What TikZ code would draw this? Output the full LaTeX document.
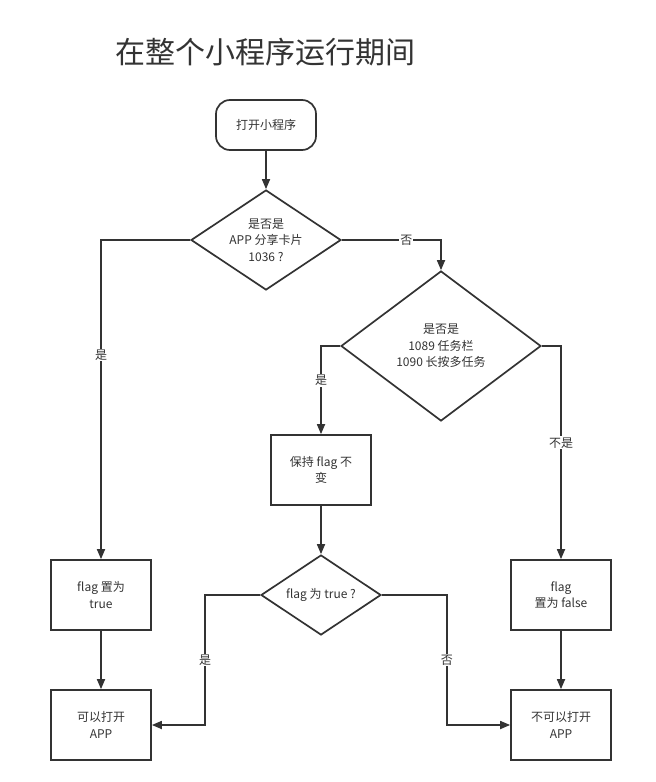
\documentclass[tikz,border=0pt]{standalone}
\usepackage{fontspec}
\setmainfont{Noto Sans CJK SC}
\usetikzlibrary{shapes.geometric,arrows.meta}
\definecolor{ink}{HTML}{333333}
\tikzset{
  every node/.style={text=ink, font=\fontsize{12}{16.5}\selectfont, align=center},
  box/.style={draw=ink, line width=1.7pt, minimum width=100pt, minimum height=70pt, inner sep=0pt},
  startbox/.style={draw=ink, line width=1.7pt, minimum width=100pt, minimum height=50pt, rounded corners=14pt, inner sep=0pt},
  dec/.style={draw=ink, line width=1.7pt, diamond, inner sep=0pt, aspect=1.5},
  conn/.style={draw=ink, line width=1.7pt, -{Triangle[length=10pt,width=8pt]}},
  lab/.style={fill=white, inner sep=1pt},
}
\begin{document}
\begin{tikzpicture}[x=1pt,y=-1pt]
\useasboundingbox (0,0) rectangle (656,782);
\node[font=\fontsize{30}{33}\selectfont] (title) at (265,52) {在整个小程序运行期间};
\node[startbox] (start) at (266,125) {打开小程序};
\node[dec, minimum width=150pt, minimum height=100pt] (d1) at (266,240) {是否是\\APP 分享卡片\\1036 ?};
\node[dec, minimum width=200pt, minimum height=150pt] (d2) at (441,346) {是否是\\1089 任务栏\\1090 长按多任务};
\node[box] (keep) at (321,470) {保持 flag 不\\变};
\node[dec, minimum width=120pt, minimum height=80pt] (d3) at (321,595) {flag 为 true ?};
\node[box] (settrue) at (101,595) {flag 置为\\true};
\node[box] (setfalse) at (561,595) {flag\\置为 false};
\node[box] (open) at (101,725) {可以打开\\APP};
\node[box] (noopen) at (561,725) {不可以打开\\APP};

\draw[conn] (start) -- (d1);
\draw[conn] (d1.west) -| node[lab, pos=0.68] {是} (settrue.north);
\draw[conn] (d1.east) -| node[lab, pos=0.325] {否} (d2.north);
\draw[conn] (d2.west) -| node[lab, pos=0.695] {是} (keep.north);
\draw[conn] (d2.east) -| node[lab, pos=0.727] {不是} (setfalse.north);
\draw[conn] (keep) -- (d3);
\draw[conn] (settrue) -- (open);
\draw[conn] (setfalse) -- (noopen);
\draw[conn] (d3.west) -- ++(-55,0) coordinate (c1) -- node[lab, pos=0.5] {是} (c1 |- open.east) -- (open.east);
\draw[conn] (d3.east) -- ++(65,0) coordinate (c2) -- node[lab, pos=0.5] {否} (c2 |- noopen.west) -- (noopen.west);
\end{tikzpicture}
\end{document}
